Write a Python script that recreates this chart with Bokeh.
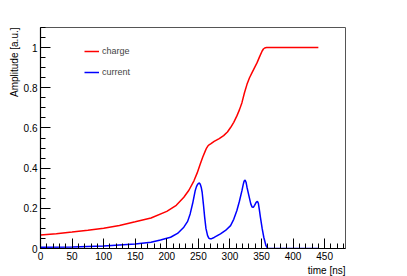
from bokeh.plotting import figure
from bokeh.models import SingleIntervalTicker, Legend, LegendItem, Range1d, Title
from bokeh.embed import file_html
from bokeh.resources import INLINE

# charge (red)
charge_t = [0, 25, 50, 75, 100, 125, 150, 175, 200, 215, 227, 235, 243, 248, 253, 257,
            261, 263, 265, 267, 270, 275, 283, 290, 296, 301, 306, 311, 315, 319, 323,
            327, 331, 335, 339, 343, 347, 351, 353, 355, 358, 440]
charge_v = [0.067, 0.074, 0.082, 0.091, 0.101, 0.115, 0.133, 0.152, 0.185, 0.215, 0.255,
            0.29, 0.337, 0.375, 0.42, 0.455, 0.486, 0.5, 0.51, 0.516, 0.522, 0.533,
            0.547, 0.562, 0.58, 0.602, 0.628, 0.66, 0.69, 0.726, 0.775, 0.817, 0.85,
            0.875, 0.9, 0.925, 0.955, 0.983, 0.993, 0.998, 1.0, 1.0]

# current (blue)
current_t = [0, 50, 100, 150, 175, 190, 206, 217, 227, 233, 237, 241, 245, 247, 249,
             251.5, 253, 254.5, 256, 258, 260, 262, 264.5, 266.5, 268.7, 271, 275, 285,
             293, 301, 306, 311, 315, 319, 321, 322.5, 324, 325.5, 327, 330, 333, 335,
             337, 339, 341.5, 343.5, 345, 346.5, 348.3, 351, 353.6, 357, 360, 440]
current_v = [0.006, 0.008, 0.013, 0.022, 0.031, 0.042, 0.056, 0.075, 0.106, 0.135, 0.172,
             0.225, 0.288, 0.308, 0.321, 0.326, 0.32, 0.305, 0.28, 0.22, 0.155, 0.1,
             0.065, 0.052, 0.048, 0.049, 0.055, 0.073, 0.09, 0.114, 0.145, 0.189, 0.235,
             0.288, 0.318, 0.336, 0.34, 0.33, 0.305, 0.263, 0.222, 0.207, 0.205, 0.215,
             0.23, 0.235, 0.225, 0.195, 0.155, 0.1, 0.056, 0.015, 0.0, 0.0]

labels = ["charge", "current"]
colors = ["#ff0000", "#0000ff"]
x_title = "time [ns]"
y_title = "Amplitude [a.u.]"

FONT = "Liberation Sans"
W, H = 407, 276

p = figure(width=W, height=H, output_backend="svg", toolbar_location=None,
           x_range=Range1d(0, 483), y_range=Range1d(0, 1.1),
           min_border_left=40, min_border_right=62, min_border_top=27, min_border_bottom=28)
p.xgrid.visible = False
p.ygrid.visible = False
p.outline_line_color = "#555555"
p.outline_line_width = 1
p.background_fill_color = "white"
p.border_fill_color = "white"

r1 = p.line(charge_t, charge_v, line_color=colors[0], line_width=1.5)
r2 = p.line(current_t, current_v, line_color=colors[1], line_width=1.5)

for ax, interval, minors in ((p.xaxis[0], 50, 5), (p.yaxis[0], 0.2, 4)):
    ax.ticker = SingleIntervalTicker(interval=interval, num_minor_ticks=minors)
    ax.major_tick_in = 10
    ax.major_tick_out = 0
    ax.minor_tick_in = 5
    ax.minor_tick_out = 0
    ax.axis_line_color = "black"
    ax.axis_line_width = 1.2
    ax.major_tick_line_color = "black"
    ax.minor_tick_line_color = "black"
    ax.major_label_text_font = FONT
    ax.major_label_text_font_size = "10px"
    ax.major_label_text_color = "black"
    ax.major_label_standoff = 3

for txt, side, stand in ((y_title, "left", 2), (x_title, "below", 0)):
    t = Title(text=txt, align="right", text_font=FONT, text_font_size="10px",
              text_font_style="normal", text_color="black", standoff=stand, offset=0)
    p.add_layout(t, side)

legend = Legend(items=[LegendItem(label=labels[0], renderers=[r1]),
                       LegendItem(label=labels[1], renderers=[r2])],
                location=(44, 166), orientation="vertical")
legend.label_text_font = FONT
legend.label_text_font_size = "9px"
legend.glyph_width = 15
legend.glyph_height = 20
legend.label_height = 20
legend.label_standoff = 3
legend.spacing = 1
legend.padding = 0
legend.margin = 0
legend.border_line_color = None
legend.background_fill_alpha = 0
p.add_layout(legend)

open("out.html", "w").write(file_html(p, INLINE))
